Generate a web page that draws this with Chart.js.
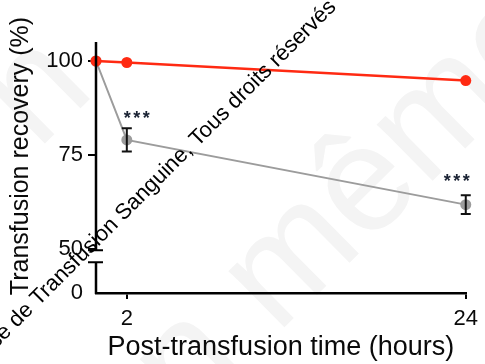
<!DOCTYPE html>
<html>
<head>
<meta charset="utf-8">
<script src="https://cdn.jsdelivr.net/npm/chart.js@4.4.1/dist/chart.umd.min.js"></script>
<style>
  html, body { margin: 0; padding: 0; background: #fff; }
  #wrap { position: relative; width: 485px; height: 364px; }
</style>
</head>
<body>
<div id="wrap"><canvas id="c" width="485" height="364"></canvas></div>
<script>
// Time points after transfusion (hours)
const hours = [0, 2, 24];
// Recovery of the control cells (%)
const controlRecovery = [100, 99.6, 94.8];
// Recovery of the treated cells (%), mean and SEM
const treatedRecovery = [100, 79.0, 61.8];
const treatedError = [0, 3.1, 2.5];
// Significance markers above the treated series
const significance = ['', '***', '***'];
// Axis tick values
const xTicks = [2, 24];
const yTicks = [50, 75, 100];

// The y axis is broken below 50: the lower stub carries only the 0 label.
const ZERO_AT = 38.3;          // scale position where the "0" label sits
const BREAK_LOW = 46.5;        // top of the lower stub
const BREAK_HIGH = 49.7;       // bottom of the upper segment

const FONT = 'Liberation Sans, Arial, sans-serif';

const brokenAxis = {
  id: 'brokenAxis',
  afterDraw(chart) {
    const ctx = chart.ctx;
    const y = chart.scales.y;
    const ax = chart.scales.x.left;
    ctx.save();
    ctx.strokeStyle = '#000';
    ctx.lineWidth = 2.5;
    ctx.lineCap = 'butt';
    ctx.beginPath();
    ctx.moveTo(ax, y.top);
    ctx.lineTo(ax, y.getPixelForValue(BREAK_HIGH));
    ctx.moveTo(ax, y.getPixelForValue(BREAK_LOW));
    ctx.lineTo(ax, y.bottom + 1);
    ctx.stroke();
    // break caps
    ctx.lineWidth = 2;
    ctx.beginPath();
    [BREAK_HIGH, BREAK_LOW].forEach(v => {
      const py = y.getPixelForValue(v);
      ctx.moveTo(ax - 8, py);
      ctx.lineTo(ax + 7, py);
    });
    ctx.stroke();
    ctx.restore();
  }
};

const errorBars = {
  id: 'errorBars',
  afterDatasetsDraw(chart) {
    const ctx = chart.ctx;
    const xs = chart.scales.x, ys = chart.scales.y;
    ctx.save();
    ctx.strokeStyle = '#111';
    ctx.lineWidth = 2;
    hours.forEach((h, i) => {
      const e = treatedError[i];
      if (!e) return;
      const px = xs.getPixelForValue(h);
      const top = ys.getPixelForValue(treatedRecovery[i] + e);
      const bot = ys.getPixelForValue(treatedRecovery[i] - e);
      ctx.beginPath();
      ctx.moveTo(px, top); ctx.lineTo(px, bot);
      ctx.moveTo(px - 5, top); ctx.lineTo(px + 5, top);
      ctx.moveTo(px - 5, bot); ctx.lineTo(px + 5, bot);
      ctx.stroke();
    });
    // significance stars, one glyph at a time for even spacing
    ctx.fillStyle = '#1a2233';
    ctx.font = 'bold 18px ' + FONT;
    ctx.textAlign = 'center';
    ctx.textBaseline = 'alphabetic';
    const shift = [0, 10, -9];
    const lift = [0, 4, 8];
    hours.forEach((h, i) => {
      const s = significance[i];
      if (!s) return;
      const cx = xs.getPixelForValue(h) + shift[i];
      const by = ys.getPixelForValue(treatedRecovery[i] + treatedError[i]) - lift[i];
      for (let k = 0; k < s.length; k++) {
        ctx.fillText(s[k], cx + (k - (s.length - 1) / 2) * 9.5, by);
      }
    });
    ctx.restore();
  }
};

const titles = {
  id: 'titles',
  afterDraw(chart) {
    const ctx = chart.ctx;
    ctx.save();
    ctx.fillStyle = '#0a0a0a';
    ctx.font = '25px ' + FONT;
    ctx.textAlign = 'center';
    ctx.textBaseline = 'middle';
    ctx.translate(21, 156);
    ctx.rotate(-Math.PI / 2);
    ctx.fillText('Transfusion recovery (%)', 0, 0);
    ctx.restore();
  }
};

const watermark = {
  id: 'watermark',
  beforeDraw(chart) {
    const ctx = chart.ctx;
    ctx.save();
    ctx.fillStyle = '#f4f4f4';
    ctx.font = '150px ' + FONT;
    ctx.textAlign = 'center';
    ctx.textBaseline = 'middle';
    ctx.save();
    ctx.translate(322, 232);
    ctx.rotate(-0.78);
    ctx.fillText('on même', 0, 0);
    ctx.restore();
    ctx.translate(38, 92);
    ctx.rotate(-0.78);
    ctx.fillText('n', 0, 0);
    ctx.restore();
  },
  afterDraw(chart) {
    const ctx = chart.ctx;
    ctx.save();
    ctx.fillStyle = '#000';
    ctx.font = '22px ' + FONT;
    ctx.textAlign = 'right';
    ctx.textBaseline = 'alphabetic';
    ctx.translate(337, 8);
    ctx.rotate(-Math.PI / 4);
    ctx.fillText('Société Française de Transfusion Sanguine, Tous droits réservés', 0, 0);
    ctx.restore();
  }
};

new Chart(document.getElementById('c'), {
  type: 'line',
  data: {
    datasets: [
      {
        label: 'Control',
        data: hours.map((h, i) => ({ x: h, y: controlRecovery[i] })),
        borderColor: '#ff2a12',
        backgroundColor: '#ff2a12',
        borderWidth: 2.5,
        pointRadius: 5.5,
        pointBorderWidth: 0,
        clip: false,
        order: 0
      },
      {
        label: 'Treated',
        data: hours.map((h, i) => ({ x: h, y: treatedRecovery[i] })),
        borderColor: '#9c9c9c',
        backgroundColor: '#9c9c9c',
        borderWidth: 2,
        pointRadius: 5.5,
        pointBorderWidth: 0,
        clip: false,
        order: 1
      }
    ]
  },
  options: {
    responsive: false,
    animation: false,
    layout: { padding: { top: 42, right: 15, left: 0, bottom: 0 } },
    plugins: { legend: { display: false }, tooltip: { enabled: false } },
    scales: {
      x: {
        type: 'linear',
        min: 0,
        max: 24,
        afterBuildTicks: s => { s.ticks = xTicks.map(v => ({ value: v })); },
        afterFit: s => { s.height = 71; },
        border: { display: true, color: '#000', width: 2.5 },
        grid: { display: true, drawOnChartArea: false, drawTicks: true, tickLength: 6, color: '#000', lineWidth: 2 },
        ticks: { color: '#0a0a0a', font: { family: FONT, size: 22 }, padding: 7, maxRotation: 0, autoSkip: false },
        title: {
          display: true,
          text: 'Post-transfusion time (hours)',
          color: '#0a0a0a',
          font: { family: FONT, size: 27 },
          padding: { top: 0, bottom: 0 }
        }
      },
      y: {
        type: 'linear',
        min: ZERO_AT,
        max: 105.05,
        afterBuildTicks: s => {
          s.ticks = [{ value: ZERO_AT }].concat(yTicks.map(v => ({ value: v })));
        },
        afterFit: s => { s.width = 96; },
        border: { display: false },
        grid: {
          display: true,
          drawOnChartArea: false,
          drawTicks: true,
          tickLength: 8,
          lineWidth: 2,
          color: ctx => (ctx.tick && ctx.tick.value === ZERO_AT) ? 'rgba(0,0,0,0)' : '#000'
        },
        ticks: {
          color: '#0a0a0a',
          autoSkip: false,
          font: { family: FONT, size: 22 },
          padding: 5,
          callback: v => (v === ZERO_AT ? '0' : String(v))
        }
      }
    }
  },
  plugins: [watermark, brokenAxis, errorBars, titles]
});
</script>
</body>
</html>
